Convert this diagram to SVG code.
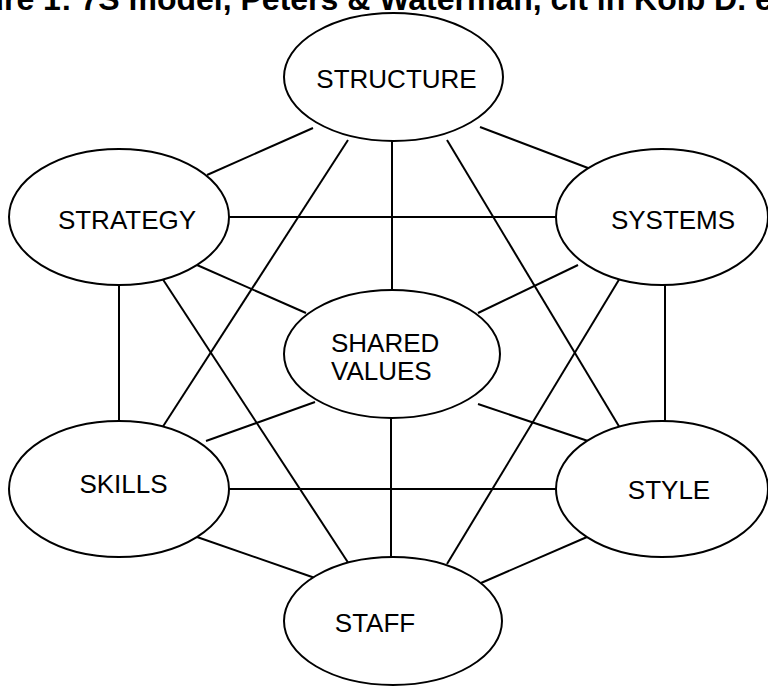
<svg xmlns="http://www.w3.org/2000/svg" width="768" height="686" viewBox="0 0 768 686">
  <style>
    .node ellipse { fill: #fff; stroke: #000; stroke-width: 2; }
    .node text { font-family: "Liberation Sans", Arial, sans-serif; font-size: 26px; fill: #000; }
    .links line { stroke: #000; stroke-width: 2; }
    .title { font-family: "Liberation Sans", Arial, sans-serif; font-size: 32px; font-weight: bold; fill: #000; }
  </style>
  <rect width="768" height="686" fill="#fff"/>
  <text class="title" x="-15.6" y="10">ure 1: 7S model, Peters &amp; Waterman, cit in Kolb D. e</text>

  <!-- connectors: every pair of the seven elements -->
  <g class="links">
    <line x1="313" y1="128" x2="207" y2="175"/>
    <line x1="480" y1="127" x2="588" y2="168"/>
    <line x1="392" y1="140" x2="392" y2="291"/>
    <line x1="348" y1="140" x2="162" y2="428"/>
    <line x1="447" y1="140" x2="620" y2="428"/>
    <line x1="228" y1="217" x2="557" y2="217"/>
    <line x1="197" y1="265" x2="306" y2="313"/>
    <line x1="119" y1="284" x2="119" y2="422"/>
    <line x1="162" y1="278" x2="349" y2="564"/>
    <line x1="578" y1="265" x2="478" y2="313"/>
    <line x1="665" y1="284" x2="665" y2="422"/>
    <line x1="620" y1="278" x2="447" y2="564"/>
    <line x1="315" y1="402" x2="206" y2="441"/>
    <line x1="478" y1="404" x2="588" y2="441"/>
    <line x1="391" y1="417" x2="391" y2="558"/>
    <line x1="228" y1="489" x2="557" y2="489"/>
    <line x1="197" y1="537" x2="315" y2="578"/>
    <line x1="587" y1="537" x2="481" y2="583"/>
  </g>

  <g id="structure" class="node">
    <ellipse cx="393.5" cy="77" rx="109.5" ry="64"/>
    <text x="396.5" y="88" text-anchor="middle">STRUCTURE</text>
  </g>
  <g id="strategy" class="node">
    <ellipse cx="119" cy="217" rx="110" ry="68"/>
    <text x="127" y="229" text-anchor="middle">STRATEGY</text>
  </g>
  <g id="systems" class="node">
    <ellipse cx="662" cy="217" rx="106" ry="68"/>
    <text x="673" y="229" text-anchor="middle">SYSTEMS</text>
  </g>
  <g id="shared-values" class="node">
    <ellipse cx="392" cy="354" rx="108" ry="64"/>
    <text x="331" y="352">SHARED</text>
    <text x="331" y="380">VALUES</text>
  </g>
  <g id="skills" class="node">
    <ellipse cx="119" cy="489" rx="110" ry="68"/>
    <text x="123.5" y="493" text-anchor="middle">SKILLS</text>
  </g>
  <g id="style" class="node">
    <ellipse cx="662" cy="489" rx="106" ry="68"/>
    <text x="669" y="499" text-anchor="middle">STYLE</text>
  </g>
  <g id="staff" class="node">
    <ellipse cx="393" cy="621" rx="109" ry="64"/>
    <text x="375" y="632" text-anchor="middle">STAFF</text>
  </g>
</svg>
